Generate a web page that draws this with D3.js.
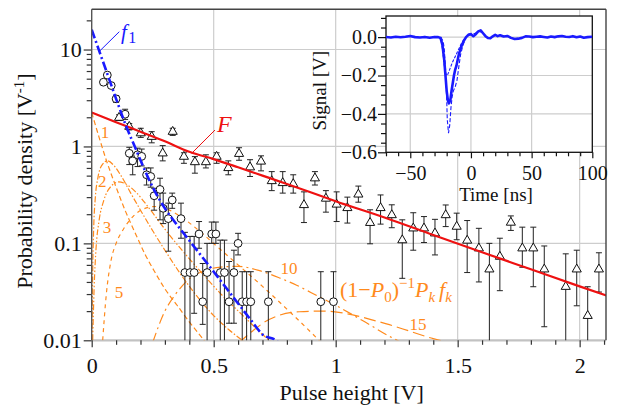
<!DOCTYPE html>
<html><head><meta charset="utf-8">
<script src="https://cdn.jsdelivr.net/npm/d3@7"></script>
</head><body style="margin:0;background:#fff">
<svg id="c" width="618" height="409" font-family="Liberation Serif" style="display:block"></svg>
<script>
// ---------------- data ----------------
const xMajor = [0, 0.5, 1, 1.5, 2];
const xMajorLabels = ["0", "0.5", "1", "1.5", "2"];
const xMinor = [0.1,0.2,0.3,0.4,0.6,0.7,0.8,0.9,1.1,1.2,1.3,1.4,1.6,1.7,1.8,1.9,2.1];
const yMajor = [0.01, 0.1, 1, 10];
const yMajorLabels = ["0.01", "0.1", "1", "10"];
const yMinor = [0.02,0.03,0.04,0.05,0.06,0.07,0.08,0.09,0.2,0.3,0.4,0.5,0.6,0.7,0.8,0.9,2,3,4,5,6,7,8,9,20];

// small pulses (circles)
const circX = [0.048,0.064,0.080,0.100,0.137,0.154,0.168,0.188,0.205,0.225,0.242,0.256,0.280,0.293,0.314,0.330,0.366,0.382,0.403,0.420,0.440,0.455,0.473,0.492,0.509,0.527,0.544,0.563,0.583,0.600,0.617,0.635,0.652,0.724,0.939,0.991];
const circY = [4.6,5.45,4.25,3.1,2.15,0.85,0.71,0.82,0.79,0.51,0.49,0.31,0.36,0.23,0.18,0.28,0.18,0.05,0.05,0.05,0.125,0.025,0.05,0.125,0.125,0.05,0.05,0.025,0.05,0.1,0.025,0.025,0.025,0.025,0.025,0.025];
const circHi = [4.75,5.65,4.4,3.35,2.42,0.98,0.85,0.96,0.94,0.6,0.6,0.37,0.47,0.33,0.26,0.33,0.26,0.13,0.118,0.118,0.168,0.062,0.1,0.166,0.166,0.108,0.108,0.065,0.085,0.127,0.051,0.051,0.051,0.051,0.051,0.051];
const circLo = [4.45,5.25,4.1,2.85,1.9,0.65,0.51,0.62,0.63,0.4,0.38,0.22,0.175,0.16,0.083,0.23,0.113,0.001,0.001,0.019,0.089,0.0146,0.001,0.1,0.1,0.001,0.001,0.015,0.015,0.076,0.001,0.001,0.001,0.001,0.001,0.001];

// large pulses (triangles)
const triX = [0.112,0.154,0.201,0.246,0.291,0.332,0.378,0.423,0.468,0.512,0.560,0.604,0.649,0.694,0.738,0.783,0.826,0.870,0.915,0.960,1.004,1.048,1.093,1.141,1.184,1.230,1.273,1.318,1.362,1.407,1.451,1.496,1.539,1.587,1.630,1.673,1.718,1.765,1.810,1.855,1.943,1.988,2.033,2.079];
const triY = [1.98,1.6,1.37,1.26,0.85,1.42,0.785,0.69,0.69,0.785,0.60,0.84,0.61,0.70,0.44,0.42,0.41,0.249,0.47,0.29,0.252,0.232,0.32,0.163,0.232,0.196,0.108,0.143,0.143,0.127,0.196,0.149,0.107,0.089,0.054,0.073,0.164,0.089,0.089,0.054,0.0357,0.054,0.0179,0.054];
const triHi = [2.12,1.72,1.54,1.42,1.02,1.54,0.86,0.785,0.82,0.86,0.71,0.97,0.73,0.80,0.55,0.55,0.51,0.34,0.55,0.35,0.34,0.30,0.39,0.222,0.316,0.25,0.175,0.207,0.189,0.177,0.249,0.205,0.172,0.143,0.10,0.113,0.192,0.147,0.147,0.094,0.078,0.085,0.0357,0.08];
const triLo = [1.85,1.48,1.24,1.09,0.71,1.3,0.67,0.53,0.6,0.67,0.51,0.72,0.49,0.56,0.35,0.33,0.33,0.164,0.40,0.21,0.168,0.162,0.266,0.099,0.158,0.145,0.0436,0.085,0.102,0.076,0.149,0.109,0.05,0.04,0.001,0.0325,0.136,0.0567,0.0357,0.0138,0.001,0.0227,0.001,0.0315];

// fit F (red)
const fitFX = [0,0.1,0.2,0.3,0.4,0.5,0.6,0.7,0.8,0.9,1.0,1.2,1.4,1.6,1.8,2.0,2.11];
const fitFY = [2.24,1.78,1.42,1.13,0.88,0.74,0.61,0.50,0.41,0.335,0.272,0.185,0.122,0.081,0.054,0.036,0.029];

// single-photon response f1 (blue)
const f1X = [0,0.03,0.06,0.1,0.14,0.18,0.22,0.26,0.3,0.35,0.4,0.45,0.5,0.55,0.6,0.65,0.7,0.76,0.8];
const f1Y = [16,9.8,6.0,3.1,1.65,0.95,0.55,0.34,0.23,0.155,0.107,0.074,0.051,0.035,0.024,0.0165,0.0115,0.0098,0.0075];

// components (1-P0)^-1 Pk fk (orange)
const comp1X = [0,0.03,0.06,0.1,0.14,0.18,0.22,0.26,0.3,0.35,0.4,0.45,0.5];
const comp1Y = [2.24,1.25,0.72,0.38,0.21,0.125,0.076,0.05,0.034,0.023,0.0155,0.0108,0.0074];
const comp2X = [0.001,0.004,0.008,0.015,0.025,0.04,0.065,0.09,0.12,0.16,0.2,0.25,0.3,0.36,0.42,0.5,0.56,0.63];
const comp2Y = [0.01,0.05,0.14,0.3,0.47,0.63,0.71,0.64,0.5,0.33,0.22,0.135,0.085,0.05,0.031,0.018,0.013,0.0095];
const comp3X = [0.004,0.01,0.018,0.03,0.05,0.08,0.11,0.14,0.18,0.23,0.3,0.37,0.45,0.53,0.62,0.7,0.76];
const comp3Y = [0.01,0.035,0.09,0.17,0.28,0.39,0.43,0.41,0.34,0.24,0.14,0.085,0.05,0.03,0.018,0.0115,0.0085];
const comp5X = [0.045,0.06,0.08,0.1,0.13,0.17,0.21,0.26,0.31,0.37,0.44,0.52,0.6,0.7,0.8,0.9,0.95];
const comp5Y = [0.01,0.03,0.068,0.1,0.14,0.19,0.225,0.24,0.225,0.185,0.135,0.09,0.06,0.036,0.021,0.012,0.009];
const comp10X = [0.25,0.3,0.34,0.4,0.46,0.53,0.6,0.68,0.77,0.84,0.9,1.0,1.11,1.22,1.28];
const comp10Y = [0.0095,0.02,0.029,0.043,0.052,0.057,0.058,0.053,0.044,0.037,0.031,0.023,0.016,0.011,0.0092];
const comp15X = [0.6,0.66,0.71,0.76,0.85,0.95,1.02,1.07,1.17,1.22,1.3,1.4,1.47];
const comp15Y = [0.0093,0.0125,0.0155,0.0178,0.0197,0.02,0.0193,0.0183,0.0157,0.0145,0.0125,0.0104,0.0094];

// inset: signal traces
const tMajor = [-50, 0, 50, 100];
const tMajorLabels = ["\u221250", "0", "50", "100"];
const tMinor = [-70,-60,-40,-30,-20,-10,10,20,30,40,60,70,80,90];
const sMajor = [0, -0.2, -0.4, -0.6];
const sMajorLabels = ["0.0", "\u22120.2", "\u22120.4", "\u22120.6"];
const sMinor = [0.1,0.05,-0.05,-0.1,-0.15,-0.25,-0.3,-0.35,-0.45,-0.5,-0.55];

const sigT = [-70,-66,-62,-58,-54,-50,-46,-42,-38,-34,-30,-27,-25,-23.5,-22,-21,-20,-19,-18.2,-17,-16,-15,-14,-13,-12,-11,-10,-9,-8,-6,-4,-2,0,2,4,6,8,10,12,14,16,18,20,22,24,27,30,33,36,39,42,45,48,51,54,57,60,63,66,69,72,75,78,81,84,87,90,93,96,100];
const sigV = [0.001,-0.002,0.002,-0.001,0.002,0.006,0.000,-0.002,0.001,-0.003,0.001,0.000,-0.005,-0.04,-0.12,-0.2,-0.28,-0.33,-0.345,-0.33,-0.28,-0.24,-0.2,-0.17,-0.15,-0.12,-0.09,-0.07,-0.05,-0.02,0.0,0.012,0.015,0.005,0.015,0.03,0.035,0.02,0.005,-0.005,-0.006,0.004,0.012,0.005,0.01,0.003,0.006,-0.004,-0.01,-0.008,-0.004,0.004,0.003,0.0,0.002,0.004,0.001,-0.002,0.003,0.0,0.004,0.006,0.002,0.001,0.005,-0.001,0.003,-0.003,0.0,0.002];
const sig2T = [-25,-23,-22,-21,-20,-19.5,-18.5,-17.5,-16.5,-15.5,-14.5,-13,-11.5,-10,-8.5,-6.5,-4,-2,0,3,6,9,12];
const sig2V = [0,-0.02,-0.06,-0.16,-0.32,-0.43,-0.5,-0.46,-0.37,-0.31,-0.28,-0.26,-0.225,-0.155,-0.09,-0.04,0.0,0.015,0.02,0.018,0.03,0.025,0.005];
const sig3T = [-26,-24.5,-23.5,-22.5,-21.5,-20.5,-19.5,-18.5,-17,-15.5,-14,-12.5,-11,-9.5,-8,-6,-4,-2,0];
const sig3V = [0,-0.02,-0.06,-0.12,-0.17,-0.195,-0.2,-0.185,-0.16,-0.135,-0.115,-0.095,-0.075,-0.055,-0.035,-0.015,0.0,0.01,0.012];

// ---------------- drawing ----------------
const FONT = "Liberation Serif";
const ORANGE = "#ff8a1c", BLUE = "#1a1aff", RED = "#ee1111", GRID = "#cdcdcd", AX = "#333";
const svg = d3.select("#c");
const M = {l: 91.7, r: 606, t: 9.3, b: 340.3};
const x = d3.scaleLinear().domain([0, 2.108]).range([M.l, M.r]);
const y = d3.scaleLog().domain([0.01, 26]).range([M.b, M.t]);

svg.append("rect").attr("width", 618).attr("height", 409).attr("fill", "#fff");
const defs = svg.append("defs");
defs.append("clipPath").attr("id", "clipMain")
  .append("rect").attr("x", M.l).attr("y", M.t).attr("width", M.r - M.l).attr("height", M.b - M.t);

// grid
const grid = svg.append("g");
grid.selectAll("line.v").data(xMajor.filter(d => d > 0)).join("line")
  .attr("x1", d => x(d)).attr("x2", d => x(d)).attr("y1", M.t).attr("y2", M.b)
  .attr("stroke", GRID).attr("stroke-width", 1.2);
grid.selectAll("line.h").data(yMajor.filter(d => d > 0.01)).join("line")
  .attr("x1", M.l).attr("x2", M.r).attr("y1", d => y(d)).attr("y2", d => y(d))
  .attr("stroke", GRID).attr("stroke-width", 1.2);
grid.append("line").attr("x1", M.l).attr("x2", M.r).attr("y1", y(0.01)).attr("y2", y(0.01))
  .attr("stroke", "#c2c2c2").attr("stroke-width", 2.2);

const plot = svg.append("g").attr("clip-path", "url(#clipMain)");
const mkLine = (xs, ys) => d3.line().curve(d3.curveMonotoneX)(xs.map((v, i) => [x(v), y(ys[i])]));

// components
const comps = [
  [comp1X, comp1Y, "5,3"],
  [comp2X, comp2Y, "6,2,1.5,2"],
  [comp3X, comp3Y, "6,2,1.5,2,1.5,2"],
  [comp5X, comp5Y, "4,4"],
  [comp10X, comp10Y, "10,4,2,4"],
  [comp15X, comp15Y, "12,5"]
];
comps.forEach(c => {
  plot.append("path").attr("d", mkLine(c[0], c[1])).attr("fill", "none")
    .attr("stroke", ORANGE).attr("stroke-width", 1.2).attr("stroke-dasharray", c[2]);
});

// error bars
function errBars(xs, hi, lo) {
  const eg = plot.append("g").attr("stroke", "#222").attr("stroke-width", 1);
  xs.forEach((v, i) => {
    const px = x(v);
    eg.append("line").attr("x1", px).attr("x2", px).attr("y1", y(hi[i])).attr("y2", y(lo[i]));
    eg.append("line").attr("x1", px - 3).attr("x2", px + 3).attr("y1", y(hi[i])).attr("y2", y(hi[i]));
    eg.append("line").attr("x1", px - 3).attr("x2", px + 3).attr("y1", y(lo[i])).attr("y2", y(lo[i]));
  });
}
errBars(circX, circHi, circLo);
errBars(triX, triHi, triLo);

// markers
plot.append("g").selectAll("circle").data(circX).join("circle")
  .attr("cx", d => x(d)).attr("cy", (d, i) => y(circY[i])).attr("r", 3.9)
  .attr("fill", "#fff").attr("stroke", "#111").attr("stroke-width", 1);
const tri = d3.symbol().type(d3.symbolTriangle).size(36);
plot.append("g").selectAll("path").data(triX).join("path")
  .attr("d", tri).attr("transform", (d, i) => `translate(${x(d)},${y(triY[i])})`)
  .attr("fill", "#fff").attr("stroke", "#111").attr("stroke-width", 1);

// fits
plot.append("path").attr("d", mkLine(fitFX, fitFY)).attr("fill", "none")
  .attr("stroke", RED).attr("stroke-width", 2.2);
plot.append("path").attr("d", mkLine(f1X, f1Y)).attr("fill", "none")
  .attr("stroke", BLUE).attr("stroke-width", 2.6).attr("stroke-dasharray", "9,3,2,3");

// axes
function styleAxis(g, size, color) {
  g.attr("font-family", FONT);
  g.select(".domain").remove();
  g.selectAll(".tick line").attr("stroke", color).attr("stroke-width", 1.2);
  g.selectAll("text").attr("font-size", size).attr("font-family", FONT).attr("fill", "#111");
}
const xAx = svg.append("g").attr("transform", `translate(0,${M.b})`)
  .call(d3.axisBottom(x).tickValues(xMajor).tickSize(7).tickFormat((d, i) => xMajorLabels[i]));
styleAxis(xAx, 22, AX);
xAx.selectAll("text").attr("dy", null).attr("y", 32.5);
const xAxm = svg.append("g").attr("transform", `translate(0,${M.b})`)
  .call(d3.axisBottom(x).tickValues(xMinor).tickSize(4.5).tickFormat(""));
styleAxis(xAxm, 22, AX);

const yAx = svg.append("g").attr("transform", `translate(${M.l},0)`)
  .call(d3.axisLeft(y).tickValues(yMajor).tickSize(8).tickPadding(2).tickFormat((d, i) => yMajorLabels[i]));
styleAxis(yAx, 22, AX);
const yAxm = svg.append("g").attr("transform", `translate(${M.l},0)`)
  .call(d3.axisLeft(y).tickValues(yMinor).tickSize(5).tickFormat(""));
styleAxis(yAxm, 22, AX);

// frame
svg.append("line").attr("x1", M.l).attr("x2", M.l).attr("y1", M.t).attr("y2", M.b).attr("stroke", "#555").attr("stroke-width", 1.4);
svg.append("line").attr("x1", M.l).attr("x2", M.r).attr("y1", M.t).attr("y2", M.t).attr("stroke", "#444").attr("stroke-width", 1.4);
svg.append("line").attr("x1", M.r).attr("x2", M.r).attr("y1", M.t).attr("y2", M.b).attr("stroke", "#444").attr("stroke-width", 1.4);

// axis titles
svg.append("text").attr("x", 351.7).attr("y", 400).attr("text-anchor", "middle").attr("font-family", FONT)
  .attr("font-size", 22).attr("fill", "#111").text("Pulse height [V]");
const yt = svg.append("text").attr("transform", "translate(31.5,181) rotate(-90)").attr("font-family", FONT)
  .attr("text-anchor", "middle").attr("font-size", 22).attr("fill", "#111");
yt.append("tspan").text("Probability density [V");
yt.append("tspan").attr("font-size", 15).attr("dy", -8).text("-1");
yt.append("tspan").attr("dy", 8).text("]");

// labels
svg.append("line").attr("x1", 99).attr("y1", 51.7).attr("x2", 119.3).attr("y2", 31.7).attr("stroke", BLUE).attr("stroke-width", 1);
const f1t = svg.append("text").attr("x", 121).attr("y", 38.7).attr("fill", BLUE).attr("font-size", 21).attr("font-family", FONT);
f1t.append("tspan").attr("font-style", "italic").text("f");
f1t.append("tspan").attr("font-size", 16).attr("dy", 4.6).attr("dx", 1.5).text("1");
svg.append("line").attr("x1", 191.7).attr("y1", 153.3).attr("x2", 215).attr("y2", 130).attr("stroke", RED).attr("stroke-width", 1);
svg.append("text").attr("x", 217).attr("y", 131.5).attr("fill", RED).attr("font-size", 24).attr("font-family", FONT)
  .attr("font-style", "italic").text("F");

const compLabels = [["1", 105, 138.3], ["2", 102.2, 187.3], ["3", 107, 233.3], ["5", 119, 297.5], ["10", 289, 273.5], ["15", 418, 329.5]];
svg.append("g").selectAll("text").data(compLabels).join("text")
  .attr("x", d => d[1]).attr("y", d => d[2]).attr("text-anchor", "middle").attr("font-family", FONT)
  .attr("font-size", 17).attr("fill", ORANGE).text(d => d[0]);

const big = svg.append("text").attr("x", 340).attr("y", 297).attr("font-size", 22).attr("fill", ORANGE).attr("font-family", FONT);
big.append("tspan").text("(1\u2212");
big.append("tspan").attr("font-style", "italic").text("P");
big.append("tspan").attr("font-size", 15).attr("dy", 5).text("0");
big.append("tspan").attr("dy", -5).text(")");
big.append("tspan").attr("font-size", 15).attr("dy", -9).text("\u22121");
big.append("tspan").attr("dy", 9).attr("font-style", "italic").text("P");
big.append("tspan").attr("font-size", 15).attr("dy", 5).attr("font-style", "italic").text("k");
big.append("tspan").attr("dy", -5).attr("dx", 4).attr("font-style", "italic").text("f");
big.append("tspan").attr("font-size", 15).attr("dy", 5).attr("font-style", "italic").text("k");

// ---------------- inset ----------------
const I = {l: 386, r: 592.3, t: 16, b: 152.3};
const xi = d3.scaleLinear().domain([-70, 100]).range([I.l, I.r]);
const yi = d3.scaleLinear().domain([-0.6, 0.11]).range([I.b, I.t]);
const ins = svg.append("g");
ins.append("rect").attr("x", I.l).attr("y", I.t).attr("width", I.r - I.l).attr("height", I.b - I.t).attr("fill", "#fff");
ins.selectAll("line.v").data([-50, 0, 50]).join("line")
  .attr("x1", d => xi(d)).attr("x2", d => xi(d)).attr("y1", I.t).attr("y2", I.b)
  .attr("stroke", GRID).attr("stroke-width", 1.2);
ins.selectAll("line.h").data([0, -0.2, -0.4]).join("line")
  .attr("x1", I.l).attr("x2", I.r).attr("y1", d => yi(d)).attr("y2", d => yi(d))
  .attr("stroke", GRID).attr("stroke-width", 1.2);

defs.append("clipPath").attr("id", "clipIns")
  .append("rect").attr("x", I.l).attr("y", I.t).attr("width", I.r - I.l).attr("height", I.b - I.t);
const ip = svg.append("g").attr("clip-path", "url(#clipIns)");
const iline = (ts, vs) => d3.line()(ts.map((t, i) => [xi(t), yi(vs[i])]));
ip.append("path").attr("d", iline(sig3T, sig3V)).attr("fill", "none").attr("stroke", BLUE).attr("stroke-width", 1.1).attr("stroke-dasharray", "3,1.5");
ip.append("path").attr("d", iline(sig2T, sig2V)).attr("fill", "none").attr("stroke", BLUE).attr("stroke-width", 1.1).attr("stroke-dasharray", "4,2");
ip.append("path").attr("d", iline(sigT, sigV)).attr("fill", "none").attr("stroke", BLUE).attr("stroke-width", 2.6).attr("stroke-linejoin", "round");

ins.append("rect").attr("x", I.l).attr("y", I.t).attr("width", I.r - I.l).attr("height", I.b - I.t)
  .attr("fill", "none").attr("stroke", "#111").attr("stroke-width", 1.3);

const xiAx = svg.append("g").attr("transform", `translate(0,${I.b})`)
  .call(d3.axisBottom(xi).tickValues(tMajor).tickSize(6).tickFormat((d, i) => tMajorLabels[i]));
styleAxis(xiAx, 20, "#111");
xiAx.selectAll("text").attr("dy", null).attr("y", 27.7);
const xiAxm = svg.append("g").attr("transform", `translate(0,${I.b})`)
  .call(d3.axisBottom(xi).tickValues(tMinor).tickSize(4).tickFormat(""));
styleAxis(xiAxm, 20, "#111");

const yiAx = svg.append("g").attr("transform", `translate(${I.l},0)`)
  .call(d3.axisLeft(yi).tickValues(sMajor).tickSize(8).tickPadding(1).tickFormat((d, i) => sMajorLabels[i]));
styleAxis(yiAx, 20, "#111");
const yiAxm = svg.append("g").attr("transform", `translate(${I.l},0)`)
  .call(d3.axisLeft(yi).tickValues(sMinor).tickSize(5).tickFormat(""));
styleAxis(yiAxm, 20, "#111");

svg.append("text").attr("x", 496).attr("y", 201).attr("text-anchor", "middle").attr("font-family", FONT)
  .attr("font-size", 19).attr("fill", "#111").text("Time [ns]");
svg.append("text").attr("transform", "translate(326,90.7) rotate(-90)").attr("text-anchor", "middle").attr("font-family", FONT)
  .attr("font-size", 19).attr("fill", "#111").text("Signal [V]");
</script>
</body></html>
